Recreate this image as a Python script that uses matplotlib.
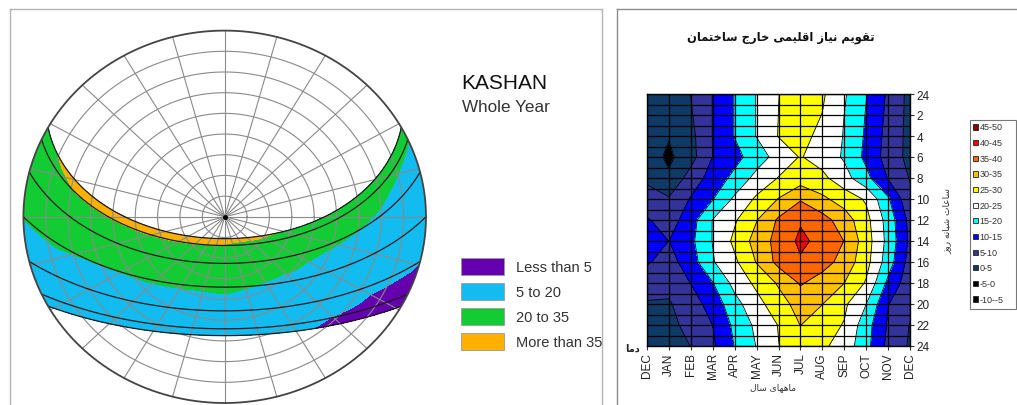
import numpy as np
import matplotlib
matplotlib.use("Agg")
import matplotlib.pyplot as plt
import matplotlib.tri as mtri
from matplotlib.patches import Rectangle, Circle

# ------------------------------------------------------------------ data
LATITUDE = 34.0  # Kashan

# sun-path panel: temperature on each sun-path date line (rows) by solar hour (cols)
sun_decl = [23.44, 20.14, 11.47, 0.0, -11.47, -20.14, -23.44]
sun_hours = [4, 5, 6, 7, 8, 9, 10, 11, 12, 13, 14, 15, 16, 17, 18, 19, 20]
T_sun = [
    [20, 22, 24, 26, 28, 30, 34, 36.5, 37, 37.2, 37.5, 37.5, 37, 36.5, 35.6, 33, 30],
    [17, 20.3, 21.5, 23.5, 25.5, 27.5, 30.5, 33, 34.6, 35.2, 35.3, 35.3, 35.3, 35.1, 33.5, 30, 28],
    [12, 14, 16, 18.5, 20.1, 21.5, 24, 25, 26, 25.5, 25, 24, 24, 24, 23, 22, 21],
    [8, 9, 10, 12, 13, 14, 17.5, 19.7, 22, 21, 20.8, 20.1, 20.1, 21, 20.3, 19, 18],
    [3.5, 4, 4.5, 5.5, 6, 8, 11, 13, 15, 15, 15, 14.5, 14, 13, 12, 11, 10],
    [2, 2.5, 2.8, 3, 3.5, 4.8, 6.5, 8.5, 10, 11, 11.5, 11, 10, 9, 8, 7, 6],
    [1.5, 2, 2.5, 2.8, 3.2, 4, 5.6, 7, 8.5, 9.5, 10, 10, 9, 8, 7, 6, 5.5],
]
band_levels = [-50, 5, 20, 35, 60]
band_colors = ["#6500AE", "#12BCF0", "#13CC33", "#FFB000"]
band_labels = ["Less than 5", "5 to 20", "20 to 35", "More than 35"]

# contour panel: outdoor temperature by hour (rows) and month (cols)
months = ["DEC", "JAN", "FEB", "MAR", "APR", "MAY", "JUN", "JUL", "AUG", "SEP", "OCT", "NOV", "DEC"]
hour_ticks = [0, 2, 4, 6, 8, 10, 12, 14, 16, 18, 20, 22, 24]
hour_labels = ["24", "2", "4", "6", "8", "10", "12", "14", "16", "18", "20", "22", "24"]
T_month_hour = [
    [3, 3, 5.1, 10.15, 15.2, 20.2, 24.9, 28, 25.7, 20.6, 15.2, 9.2, 3.5],
    [3, 2, 4.5, 10.15, 15.2, 20.2, 25.05, 27, 24.9, 19.98, 14.7, 8.8, 3.5],
    [3, 0.3, 3.6, 10.15, 15.2, 20.2, 25.2, 26.5, 23.7, 19.7, 14.3, 8.3, 3.5],
    [2.5, -1, 3.2, 10.1, 13.4, 17.5, 21.9, 25.3, 22.9, 19.4, 13.8, 8.0, 3.5],
    [4.3, 0.8, 7.1, 12.1, 16.3, 21.6, 25.2, 27.5, 26.2, 21.9, 16.4, 9.7, 4.7],
    [6.5, 5.5, 10.4, 14.8, 20.9, 25.8, 30.2, 34.5, 31, 27.8, 24.4, 15.7, 6],
    [10.5, 7.5, 12.9, 20.2, 24.4, 29.8, 35.7, 39.5, 36.9, 32.5, 26.6, 18, 8.5],
    [12.5, 9.95, 13.9, 20.2, 26.1, 31.9, 36.8, 41, 38.6, 34.9, 27.4, 18.5, 9],
    [10.5, 8, 12.7, 19.6, 24.1, 30.3, 36.5, 39.4, 37, 33.2, 26.7, 17.5, 8],
    [7, 6.5, 10.1, 14.8, 21.6, 26.1, 30.6, 35.5, 32.8, 30.05, 24.5, 13.8, 7],
    [4.6, 4.5, 7.9, 11.9, 18.3, 23.3, 27.9, 32, 30.1, 25.9, 20.05, 10.2, 6],
    [3.5, 3.5, 6.7, 10.05, 16.1, 21.1, 25.2, 30.1, 27.1, 24.7, 17.1, 9.4, 4.8],
    [3.5, 3.8, 5.05, 9.2, 15.2, 20.2, 24.9, 27.5, 25.9, 22.9, 16.6, 8.7, 4.4],
]
temp_levels = [-10, -5, 0, 5, 10, 15, 20, 25, 30, 35, 40, 45, 50]
temp_colors = ["#000000", "#000000", "#0F3A66", "#333399", "#0000FF", "#00FFFF",
               "#FFFFFF", "#FFFF00", "#FFC000", "#FF6600", "#FF0000", "#8B0000"]
temp_legend = ["45-50", "40-45", "35-40", "30-35", "25-30", "20-25",
               "15-20", "10-15", "5-10", "0-5", "-5-0", "-10--5"]

title_fa = "تقویم نیاز اقلیمی خارج ساختمان"
ylabel_fa = "ساعات شبانه روز"
xlabel_fa = "ماههای سال"
corner_fa = "دما"

# ------------------------------------------------------------------ helpers
_F = {
    "\u0627": ("\uFE8D", "\uFE8E", None, None),
    "\u0628": ("\uFE8F", "\uFE90", "\uFE91", "\uFE92"),
    "\u062A": ("\uFE95", "\uFE96", "\uFE97", "\uFE98"),
    "\u062C": ("\uFE9D", "\uFE9E", "\uFE9F", "\uFEA0"),
    "\u062E": ("\uFEA5", "\uFEA6", "\uFEA7", "\uFEA8"),
    "\u062F": ("\uFEA9", "\uFEAA", None, None),
    "\u0631": ("\uFEAD", "\uFEAE", None, None),
    "\u0632": ("\uFEAF", "\uFEB0", None, None),
    "\u0633": ("\uFEB1", "\uFEB2", "\uFEB3", "\uFEB4"),
    "\u0634": ("\uFEB5", "\uFEB6", "\uFEB7", "\uFEB8"),
    "\u0639": ("\uFEC9", "\uFECA", "\uFECB", "\uFECC"),
    "\u0642": ("\uFED5", "\uFED6", "\uFED7", "\uFED8"),
    "\u0644": ("\uFEDD", "\uFEDE", "\uFEDF", "\uFEE0"),
    "\u0645": ("\uFEE1", "\uFEE2", "\uFEE3", "\uFEE4"),
    "\u0646": ("\uFEE5", "\uFEE6", "\uFEE7", "\uFEE8"),
    "\u0647": ("\uFEE9", "\uFEEA", "\uFEEB", "\uFEEC"),
    "\u0648": ("\uFEED", "\uFEEE", None, None),
    "\u06CC": ("\uFEEF", "\uFEF0", "\uFEF3", "\uFEF4"),
}


def rtl(s):
    out = []
    for i, ch in enumerate(s):
        f = _F.get(ch)
        if f is None:
            out.append(ch)
            continue
        prev = s[i - 1] if i > 0 else ""
        nxt = s[i + 1] if i + 1 < len(s) else ""
        jp = prev in _F and _F[prev][2] is not None
        jn = f[2] is not None and nxt in _F
        out.append(f[3] if (jp and jn) else f[1] if jp else f[2] if jn else f[0])
    return "".join(reversed(out))


def sunpos(decl, hour):
    d = np.radians(decl)
    H = np.radians((np.asarray(hour) - 12.0) * 15.0)
    p = np.radians(LATITUDE)
    sa = np.sin(p) * np.sin(d) + np.cos(p) * np.cos(d) * np.cos(H)
    alt = np.arcsin(np.clip(sa, -1, 1))
    az = np.arctan2(-np.cos(d) * np.sin(H), np.sin(d) * np.cos(p) - np.cos(d) * np.cos(H) * np.sin(p))
    r = (np.pi / 2 - alt) / (np.pi / 2)
    return r * np.sin(az), r * np.cos(az)


W, H = 1017, 406
fig = plt.figure(figsize=(W / 100, H / 100), dpi=100)
fig.patch.set_facecolor("white")
LAT_FONT = ["Liberation Sans", "DejaVu Sans"]
FA_FONT = ["DejaVu Sans"]

# overlay in pixel coordinates
ov = fig.add_axes([0, 0, 1, 1], zorder=0)
ov.set_xlim(0, W)
ov.set_ylim(H, 0)
ov.axis("off")

ov.plot([10, 602], [10, 10], color="#b4b4b4", lw=1.0)
ov.plot([10, 10], [10, H], color="#b4b4b4", lw=1.0)
ov.plot([602, 602], [10, H], color="#b4b4b4", lw=1.0)
ov.plot([617, W], [10, 10], color="#8c8c8c", lw=1.0)
ov.plot([617, 617], [10, H], color="#8c8c8c", lw=1.0)

# ------------------------------------------------------------------ sun path
cx, cy, rx, ry = 224.7, 217.8, 201.3, 186.2
axs = fig.add_axes([(cx - rx) / W, (H - cy - ry) / H, 2 * rx / W, 2 * ry / H], zorder=1)
axs.set_xlim(-1, 1)
axs.set_ylim(-1, 1)
axs.axis("off")

HH, DD = np.meshgrid(sun_hours, sun_decl)
nr, nc = HH.shape
tris = []
for i in range(nr - 1):
    for j in range(nc - 1):
        p = i * nc + j
        tris.append([p, p + 1, p + nc])
        tris.append([p + 1, p + nc + 1, p + nc])
tri_i = mtri.Triangulation(HH.ravel().astype(float), DD.ravel(), np.array(tris))
zvals = np.array(T_sun, dtype=float).ravel()
refiner = mtri.UniformTriRefiner(tri_i)
tri_f, z_f = refiner.refine_field(zvals, triinterpolator=mtri.LinearTriInterpolator(tri_i, zvals), subdiv=3)
px, py = sunpos(tri_f.y, tri_f.x)
tri_p = mtri.Triangulation(px, py, tri_f.triangles)
clip = Circle((0, 0), 1.0, transform=axs.transData, facecolor="none", edgecolor="none")
axs.add_patch(clip)
cs = axs.tricontourf(tri_p, z_f, levels=band_levels, colors=band_colors, zorder=1)
cs.set_clip_path(clip)

# altitude circles & azimuth lines
t = np.linspace(0, 2 * np.pi, 400)
for k in range(1, 9):
    rr = k / 9
    axs.plot(rr * np.cos(t), rr * np.sin(t), color="#8a8a8a", lw=0.8, zorder=2)
for a in np.arange(0, 360, 15):
    ar = np.radians(a)
    axs.plot([0, np.sin(ar)], [0, np.cos(ar)], color="#8a8a8a", lw=0.8, zorder=2)
axs.plot(np.cos(t), np.sin(t), color="#444444", lw=1.3, zorder=4, clip_on=False)
axs.plot([0], [0], "o", color="black", ms=2.5, zorder=5)

# date arcs
hf = np.linspace(3, 21, 800)
for dcl in sun_decl:
    x, y = sunpos(dcl, hf)
    m = np.hypot(x, y) <= 1.0
    axs.plot(x[m], y[m], color="#1a1a1a", lw=0.9, zorder=3)

# legend / titles of the left panel
ov.text(461, 89, "KASHAN", fontsize=15, family=LAT_FONT, color="#111111", va="baseline")
ov.text(462, 112, "Whole Year", fontsize=12.3, family=LAT_FONT, color="#333333", va="baseline")
for i, (c, lab) in enumerate(zip(band_colors, band_labels)):
    y0 = 259 + 25 * i
    ov.add_patch(Rectangle((461, y0), 43, 17, facecolor=c, edgecolor="#9a9a9a", lw=0.6))
    ov.text(516, y0 + 8.8, lab, fontsize=10.5, family=LAT_FONT, color="#333333", va="center")

# ------------------------------------------------------------------ contour chart
L, R, T, B = 647, 910, 95, 347
axc = fig.add_axes([L / W, (H - B) / H, (R - L) / W, (B - T) / H], zorder=1)
xm = np.arange(len(months))
axc.contourf(xm, hour_ticks, np.array(T_month_hour), levels=temp_levels, colors=temp_colors, zorder=1)
axc.contour(xm, hour_ticks, np.array(T_month_hour), levels=temp_levels[1:-1], colors="black",
            linewidths=0.6, zorder=2)
for xv in xm:
    axc.axvline(xv, color="black", lw=0.9, zorder=3)
for hv in range(0, 25):
    axc.axhline(hv, color="black", lw=0.9, zorder=3)
axc.set_xlim(0, 12)
axc.set_ylim(24, 0)
axc.set_xticks(xm)
axc.set_xticklabels(months, rotation=90, fontsize=8.5, family=LAT_FONT, color="#222222")
axc.set_yticks(hour_ticks)
axc.set_yticklabels(hour_labels, fontsize=8.5, family=LAT_FONT, color="#222222")
axc.yaxis.tick_right()
axc.tick_params(axis="both", length=3, width=0.8, pad=1.5, color="#333333")
for s in axc.spines.values():
    s.set_linewidth(1.0)
    s.set_color("black")

ov.text(781, 38, rtl(title_fa), fontsize=8.3, family=FA_FONT, weight="bold", ha="center",
        va="center", color="#111111")
ov.text(773, 388, rtl(xlabel_fa), fontsize=6.5, family=FA_FONT, ha="center", va="center", color="#333333")
ov.text(947, 221, rtl(ylabel_fa), fontsize=6.5, family=FA_FONT, ha="center", va="center",
        rotation=90, color="#333333")
ov.text(632, 349, rtl(corner_fa), fontsize=7, family=FA_FONT, weight="bold", ha="center",
        va="center", color="#222222")

# legend box
ov.add_patch(Rectangle((970, 121), 46, 189, facecolor="white", edgecolor="#777777", lw=0.8))
for i, (lab, c) in enumerate(zip(temp_legend, temp_colors[::-1])):
    yy = 128 + 15.64 * i
    ov.add_patch(Rectangle((973, yy - 2.6), 5.2, 5.2, facecolor=c, edgecolor="#222222", lw=0.6))
    ov.text(979.5, yy, lab, fontsize=6.5, family=LAT_FONT, color="#333333", va="center")

fig.savefig("out.png", dpi=100, facecolor="white")
